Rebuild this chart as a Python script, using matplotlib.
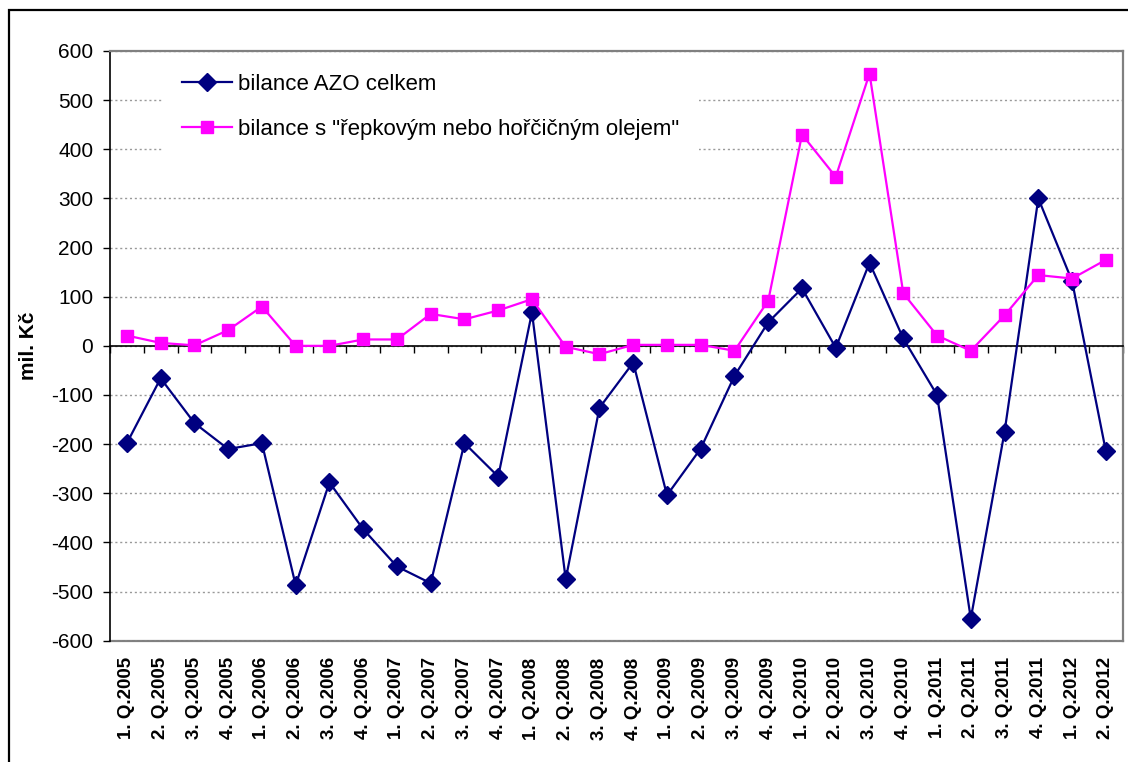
import matplotlib
matplotlib.use('Agg')
import matplotlib.pyplot as plt
import numpy as np
from matplotlib.patches import Rectangle

plt.rcParams['font.family'] = ['Liberation Sans', 'DejaVu Sans']
plt.rcParams['axes.unicode_minus'] = False

# kategorie (čtvrtletí)
kvartaly = ['1. Q.2005', '2. Q.2005', '3. Q.2005', '4. Q.2005',
            '1. Q.2006', '2. Q.2006', '3. Q.2006', '4. Q.2006',
            '1. Q.2007', '2. Q.2007', '3. Q.2007', '4. Q.2007',
            '1. Q.2008', '2. Q.2008', '3. Q.2008', '4. Q.2008',
            '1. Q.2009', '2. Q.2009', '3. Q.2009', '4. Q.2009',
            '1. Q.2010', '2. Q.2010', '3. Q.2010', '4. Q.2010',
            '1. Q.2011', '2. Q.2011', '3. Q.2011', '4. Q.2011',
            '1. Q.2012', '2. Q.2012']

# bilance AZO celkem (mil. Kč)
azo_celkem = [-198, -66, -157, -210, -198, -487, -278, -373, -449, -483,
              -198, -266, 68, -475, -126, -34, -304, -209, -61, 48,
              117, -4, 169, 15, -100, -555, -175, 300, 132, -214]

# bilance s řepkovým nebo hořčičným olejem (mil. Kč)
repka = [21, 6, 1, 32, 80, 0, 0, 13, 13, 65,
         54, 72, 95, -2, -17, 2, 2, 2, -10, 92,
         430, 344, 554, 107, 21, -10, 62, 144, 137, 175]

y_ticks = list(range(-600, 601, 100))

W, H = 1128, 762
fig = plt.figure(figsize=(W / 100, H / 100), dpi=100)
ax = fig.add_axes([110 / W, 1 - 640.7 / H, (1122.7 - 110) / W, (640.7 - 51) / H])

x = np.arange(len(kvartaly))
ax.plot(x, azo_celkem, color='#000080', lw=1.6, marker='D', markersize=9,
        label='bilance AZO celkem', zorder=3)
ax.plot(x, repka, color='#FF00FF', lw=1.6, marker='s', markersize=8,
        label='bilance s "řepkovým nebo hořčičným olejem"', zorder=4)

ax.set_xlim(-0.5, len(kvartaly) - 0.5)
ax.set_ylim(-600, 600)
ax.set_yticks(y_ticks)
ax.tick_params(axis='y', direction='out', length=5, width=1, pad=7,
               labelsize=15, color='black')
ax.yaxis.grid(True, linestyle=(0, (1.5, 2)), color='#999999', lw=1)
ax.set_axisbelow(True)

# osa kategorií v nule
ax.spines['bottom'].set_position(('data', 0))
ax.spines['bottom'].set_color('black')
ax.spines['bottom'].set_linewidth(1.2)
ax.set_xticks(np.arange(-0.5, len(kvartaly), 1))
ax.set_xticklabels([])
ax.tick_params(axis='x', direction='out', length=5, width=1, color='black')

ax.spines['left'].set_color('black')
ax.spines['left'].set_linewidth(1.2)
for s in ['top', 'right']:
    ax.spines[s].set_color('#808080')
    ax.spines[s].set_linewidth(1.6)

# popisky kategorií dole
sec = ax.secondary_xaxis('bottom')
sec.set_xticks(x)
sec.set_xticklabels(kvartaly, rotation=90, fontsize=13.5, fontweight='bold')
sec.tick_params(length=0, pad=12)
sec.spines['bottom'].set_color('#808080')
sec.spines['bottom'].set_linewidth(1.6)

ax.set_ylabel('mil. Kč', fontsize=15, fontweight='bold')
ax.yaxis.set_label_coords(-0.071, 0.5)

leg = ax.legend(loc='upper left', bbox_to_anchor=(0.0514, 0.995), fontsize=16,
                frameon=True, facecolor='white', edgecolor='none', framealpha=1,
                handlelength=2.25, handletextpad=0.27, labelspacing=1.09,
                borderpad=0.9, borderaxespad=0, fancybox=False)

# vnější rámeček
fig.patches.append(Rectangle((9 / W, -0.05), 1.2, 1.05 - 10 / H,
                             transform=fig.transFigure, fill=False,
                             edgecolor='black', lw=1.6, clip_on=False))

fig.savefig('out.png', dpi=100)
